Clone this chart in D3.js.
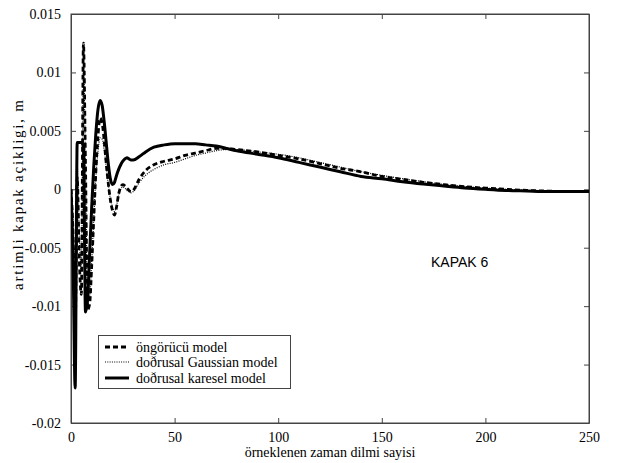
<!DOCTYPE html>
<html><head><meta charset="utf-8">
<script src="https://cdn.jsdelivr.net/npm/d3@7"></script>
<style>body{margin:0;background:#fff}svg{display:block}</style>
</head><body>
<svg id="c" width="617" height="463"></svg>
<script>
const samples = [0,1,2,3,4,5,6,7,8,9,10,11,12,13,14,15,16,17,18,19,20,21,22,23,24,25,26,27,28,29,30,
  33,36,40,45,50,55,60,65,70,75,80,90,100,110,120,130,140,150,160,170,180,190,200,210,220,230,240,250];
const ongorucu = [0,-0.004,-0.012,0.001,-0.006,-0.009,0.0125,0.002,-0.0103,-0.0098,-0.0065,-0.0025,0.0015,0.0045,0.0061,0.0057,0.0042,0.0022,0.0005,-0.0009,-0.0018,-0.0022,-0.0015,-0.0004,0.0002,0.0004,0.0003,0.0001,-0.0001,-0.0002,-0.0001,
  0.0009,0.0016,0.0021,0.0024,0.0026,0.0029,0.0031,0.0033,0.0035,0.0035,0.0034,0.0032,0.0029,0.0026,0.0022,0.0018,0.0015,0.0011,0.00085,0.0006,0.0004,0.00022,0.0001,0.0,-0.0001,-0.00015,-0.0002,-0.0002];
const gaussian = [0,-0.003,-0.009,0.002,-0.004,-0.007,0.0105,0.002,-0.0095,-0.0092,-0.0062,-0.0025,0.001,0.0032,0.0044,0.0043,0.0034,0.0019,0.0004,-0.0008,-0.0015,-0.0019,-0.0014,-0.0005,0.0,0.0002,0.0001,-0.0001,-0.0002,-0.0003,-0.0002,
  0.0006,0.0012,0.0017,0.0021,0.0023,0.0026,0.0029,0.0031,0.0033,0.0034,0.0034,0.0032,0.0030,0.0027,0.0023,0.0019,0.0015,0.0012,0.0009,0.00065,0.00042,0.00024,0.0001,0.0,-0.0001,-0.00015,-0.0002,-0.0002];
const karesel = [0,-0.006,-0.017,0.004,0.004,0.004,0.0036,-0.0105,-0.0095,-0.0055,-0.0015,0.002,0.0048,0.0068,0.0076,0.0072,0.0058,0.0040,0.0022,0.0009,0.0004,0.0006,0.0012,0.0017,0.0021,0.0024,0.0026,0.0027,0.0026,0.0025,0.0025,
  0.0028,0.0032,0.0036,0.0038,0.0039,0.0039,0.0039,0.0038,0.0037,0.0035,0.0033,0.0030,0.0027,0.0023,0.0019,0.0015,0.0011,0.0009,0.00065,0.00045,0.00028,0.00012,0.0,-0.0001,-0.00015,-0.0002,-0.0002,-0.0002];
const xTicks = [0,50,100,150,200,250];
const yTicks = [-0.02,-0.015,-0.01,-0.005,0,0.005,0.01,0.015];
const legendLabels = ["öngörücü model","doðrusal Gaussian model","doðrusal karesel model"];
const xLabel = "örneklenen zaman dilmi sayisi";
const yLabel = "artimli kapak açikligi, m";
const annotation = "KAPAK 6";

const L=71,R=589,T=14,B=423;
const svg=d3.select("#c");
const x=d3.scaleLinear().domain([0,250]).range([L,R]);
const y=d3.scaleLinear().domain([-0.02,0.015]).range([B,T]);
const serif="'Liberation Serif','Times New Roman',serif";
const axisColor="#444";

svg.append("defs").append("clipPath").attr("id","clip").append("rect")
  .attr("x",L).attr("y",T).attr("width",R-L).attr("height",B-T);

const fmtY=v=>v===0?"0":String(+v.toFixed(3));
const ax=(g)=>{g.selectAll("path").attr("stroke",axisColor);g.selectAll("line").attr("stroke",axisColor);
  g.selectAll("text").attr("font-family",serif).attr("font-size",14).attr("fill","#000");};
svg.append("g").attr("transform",`translate(0,${B})`)
  .call(d3.axisBottom(x).tickValues(xTicks).tickSizeInner(-5).tickSizeOuter(0).tickPadding(9).tickFormat(d3.format("d"))).call(ax);
svg.append("g").attr("transform",`translate(0,${T})`)
  .call(d3.axisTop(x).tickValues(xTicks).tickSizeInner(-5).tickSizeOuter(0).tickFormat("")).call(ax);
svg.append("g").attr("transform",`translate(${L},0)`)
  .call(d3.axisLeft(y).tickValues(yTicks).tickSizeInner(-5).tickSizeOuter(0).tickPadding(10).tickFormat(fmtY)).call(ax);
svg.append("g").attr("transform",`translate(${R},0)`)
  .call(d3.axisRight(y).tickValues(yTicks).tickSizeInner(-5).tickSizeOuter(0).tickFormat("")).call(ax);
svg.append("rect").attr("x",L).attr("y",T).attr("width",R-L).attr("height",B-T)
  .attr("fill","none").attr("stroke",axisColor).attr("stroke-width",1);

const line=(vals)=>d3.line().x((d,i)=>x(samples[i])).y(d=>y(d)).curve(d3.curveMonotoneX)(vals);
const styles=[
  {vals:ongorucu,w:2.8,dash:"5,3"},
  {vals:gaussian,w:1.2,dash:"1,1.3"},
  {vals:karesel,w:3,dash:null}
];
const plot=svg.append("g").attr("clip-path","url(#clip)");
styles.forEach(s=>{
  const p=plot.append("path").attr("d",line(s.vals)).attr("fill","none").attr("stroke","#000")
    .attr("stroke-width",s.w).attr("stroke-linejoin","miter").attr("stroke-miterlimit",2);
  if(s.dash) p.attr("stroke-dasharray",s.dash);
});

// legend
const lg=svg.append("g");
lg.append("rect").attr("x",98.5).attr("y",335.5).attr("width",192).attr("height",53)
  .attr("fill","#fff").attr("stroke",axisColor);
const rows=[347,362,378];
styles.forEach((s,i)=>{
  const l=lg.append("line").attr("x1",105).attr("x2",129).attr("y1",rows[i]).attr("y2",rows[i])
    .attr("stroke","#000").attr("stroke-width",s.w);
  if(s.dash) l.attr("stroke-dasharray",s.dash);
  lg.append("text").attr("x",136).attr("y",rows[i]+4.5).attr("font-family",serif).attr("font-size",14)
    .text(legendLabels[i]);
});

svg.append("text").attr("x",431).attr("y",267).attr("font-family","'Liberation Sans',Arial,sans-serif")
  .attr("font-size",14).text(annotation);
svg.append("text").attr("x",(L+R)/2).attr("y",457).attr("text-anchor","middle")
  .attr("font-family",serif).attr("font-size",14).text(xLabel);
svg.append("text").attr("transform",`translate(23,${195}) rotate(-90)`).attr("text-anchor","middle")
  .attr("font-family",serif).attr("font-size",15)
  .attr("textLength",190).attr("lengthAdjust","spacing").text(yLabel);
</script>
</body></html>
